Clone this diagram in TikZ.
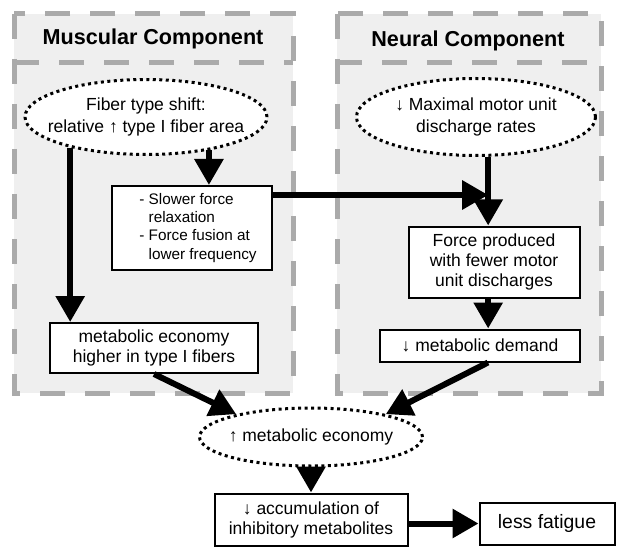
\documentclass[tikz,border=0pt]{standalone}
\usepackage{fontspec}
\setmainfont{Liberation Sans}
\usetikzlibrary{arrows.meta,calc,positioning,shapes}

\definecolor{panelgray}{HTML}{EFEFEF}
\definecolor{dashgray}{HTML}{AAAAAA}

% text that does not widen the ellipse round it
\newcommand{\cloudtext}[1]{\makebox[0pt]{\begin{tabular}{@{}c@{}}#1\end{tabular}}}

\begin{document}
\begin{tikzpicture}[>={Triangle[length=26pt,width=28pt]}, x=1pt, y=-1pt]
	\tikzstyle{block} = [draw, rectangle, line width=2pt, fill=white, inner sep=0pt, align=center, font=\fontsize{17.5}{20}\selectfont]
	\tikzstyle{cloud} = [draw, ellipse, line width=3pt, dash pattern=on 3pt off 3.5pt, fill=white, inner sep=0pt, font=\fontsize{17.5}{22}\selectfont]
	\tikzstyle{panel} = [draw=dashgray, fill=panelgray, line width=5pt, dash pattern=on 25pt off 20pt]
	\tikzstyle{flow} = [->, line width=6pt]
	\tikzstyle{head} = [font=\fontsize{21.6}{26}\selectfont\bfseries]
	
	\useasboundingbox (0,0) rectangle (626,556);
	
	% the two components
	\draw [panel] (14,14) rectangle (293,393);
	\draw [panel] (337,14) rectangle (601,393);
	\draw [panel, fill=none] (14,63) -- (293,63);
	\draw [panel, fill=none] (337,63) -- (601,63);
	
	\node [head] (muscular) at (153,39) {Muscular Component};
	\node [head] (neural) at (468,41) {Neural Component};
	
	\node [cloud, minimum width=242pt, minimum height=75pt] (fiber) at (146,117) {\cloudtext{Fiber type shift:\\relative ↑ type I fiber area}};
	
	\node [cloud, minimum width=239pt, minimum height=77pt] (motor) at (476,117) {\cloudtext{↓ Maximal motor unit\\discharge rates}};
	
	\node [block, minimum width=160pt, minimum height=84pt, font=\fontsize{15.3}{18.3}\selectfont] (slower) at (192,228) {\begin{tabular}{@{\hspace{12pt}}l@{ }l@{}}-&Slower force\\&relaxation\\-&Force fusion at\\&lower frequency\end{tabular}};
	
	\node [block, minimum width=208pt, minimum height=50pt] (econ) at (154,348) {metabolic economy\\higher in type I fibers};
	
	\node [block, minimum width=171pt, minimum height=71pt] (force) at (494,262) {Force produced\\with fewer motor\\unit discharges};
	
	\node [block, minimum width=200pt, minimum height=32pt, below = 30pt of force, xshift=-14pt] (demand) {↓ metabolic demand};
	
	\node [cloud, minimum width=223pt, minimum height=58pt] (metab) at (311,437) {\cloudtext{↑ metabolic economy}};
	
	\node [block, minimum width=193pt, minimum height=52pt, below = 25pt of metab] (accum) {↓ accumulation of\\inhibitory metabolites};
	
	\node [block, minimum width=135pt, minimum height=42pt, right = 70pt of accum, yshift=-4pt, font=\fontsize{19.4}{22}\selectfont] (fatigue) {less fatigue};
	
	\draw [flow] (fiber.202) -- (fiber.202 |- econ.north);
	
	\draw [flow] (fiber.332) -- (fiber.332 |- slower.north);
	
	\draw [flow] ([yshift=-10pt]slower.north east) -- ([yshift=-10pt]slower.north east -| motor.287);
	
	\draw [flow] (motor.287) -- (motor.287 |- force.north);
	
	\draw [flow] (force.south -| motor.287) -- (demand.north -| motor.287);
	
	\draw [flow] (econ.south) -- (metab.163);
	
	\draw [flow] ([xshift=8pt]demand.south) -- (metab.17);
	
	\draw [flow] (metab.south) -- (metab.south |- accum.north);
	
	\draw [flow] (fatigue.west -| accum.east) -- (fatigue.west);
	
\end{tikzpicture}
\end{document}
